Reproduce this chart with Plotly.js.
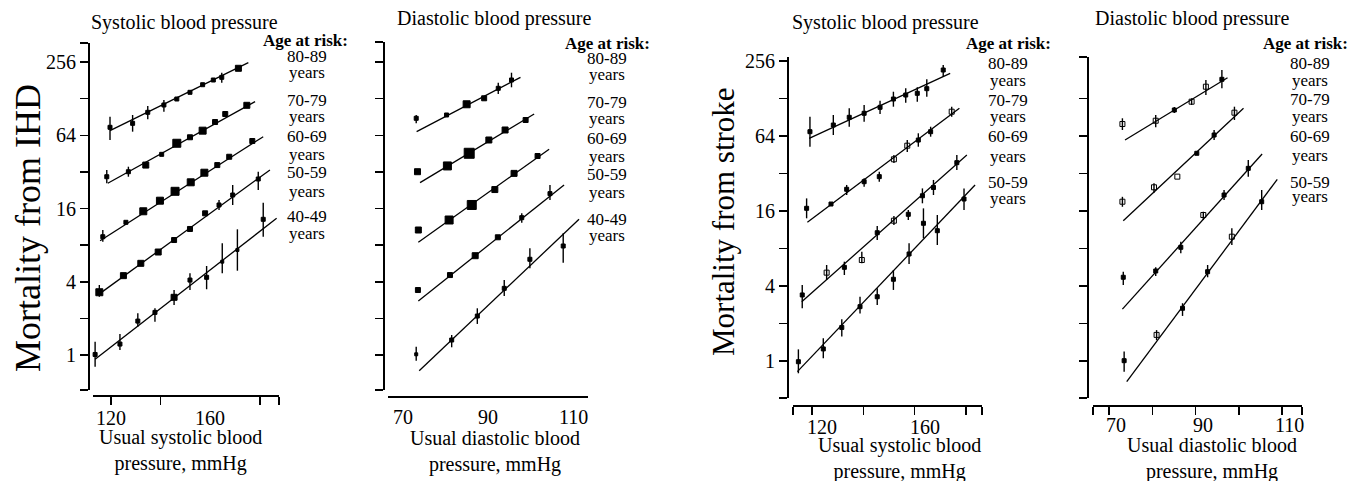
<!DOCTYPE html>
<html><head><meta charset="utf-8">
<script src="https://cdn.plot.ly/plotly-3.0.1.min.js"></script>
<style>html,body{margin:0;padding:0;background:#fff}#chart{width:1367px;height:481px}</style>
</head><body><div id="chart"></div>
<script>
// ================= DATA =================
const ageGroupsIHD = ['80-89', '70-79', '60-69', '50-59', '40-49'];
const ageGroupsStroke = ['80-89', '70-79', '60-69', '50-59'];
const panelTitles = ['Systolic blood pressure', 'Diastolic blood pressure', 'Systolic blood pressure', 'Diastolic blood pressure'];
const yTitles = ['Mortality from IHD', 'Mortality from stroke'];
const xTitles = ['Usual systolic blood<br>pressure, mmHg', 'Usual diastolic blood<br>pressure, mmHg'];
const yTickVals = [1, 2, 4, 8, 16, 32, 64, 128, 256];
const yTickLabels = ['1', '', '4', '', '16', '', '64', '', '256'];
const sbpTickVals = [120, 140, 160, 180];
const sbpTickLabels = ['120', '', '160', ''];
const dbpTickVals = [70, 80, 90, 100, 110];
const dbpTickLabels = ['70', '', '90', '', '110'];

// ---- IHD vs usual systolic BP ----
const ihdSys80x = [119.6, 128.7, 134.8, 141.3, 146.5, 151.8, 156.9, 161.2, 164.6, 171.3];
const ihdSys80y = [74.4, 80.2, 98.8, 113.5, 127.1, 144.3, 166.6, 182.1, 191.6, 227.3];
const ihdSys80lo = [58.5, 68.5, 86.5, 99.9, null, null, null, null, 173, null];
const ihdSys80hi = [90.9, 93.9, 111.3, 124.7, null, null, null, null, 209, null];
const ihdSys80fitX = [119.6, 175.3], ihdSys80fitY = [69.8, 252.7];

const ihdSys70x = [118.3, 127.0, 134.0, 140.4, 146.5, 151.8, 156.9, 161.9, 166.0, 174.7];
const ihdSys70y = [29.2, 32.1, 36.4, 44.6, 55.0, 61.6, 69.8, 82.2, 95.7, 112.8];
const ihdSys70lo = [25.8, 29.2, null, null, null, null, null, null, null, null];
const ihdSys70hi = [33.2, 35.3, null, null, null, null, null, null, null, null];
const ihdSys70fitX = [118.7, 178.0], ihdSys70fitY = [25.8, 120.8];

const ihdSys60x = [116.7, 126.0, 133.0, 139.7, 145.8, 152.1, 157.6, 162.8, 167.6, 176.9];
const ihdSys60y = [9.38, 12.32, 15.18, 18.55, 22.16, 26.27, 31.5, 36.4, 42.6, 57.4];
const ihdSys60lo = [8.54, null, null, null, null, null, null, null, null, null];
const ihdSys60hi = [10.65, null, null, null, null, null, null, null, null, null];
const ihdSys60fitX = [115.6, 181.3], ihdSys60fitY = [8.70, 62.3];

const ihdSys50x = [115.3, 125.0, 132.0, 139.0, 145.4, 151.8, 157.9, 163.5, 169.0, 179.3];
const ihdSys50y = [3.28, 4.49, 5.67, 7.02, 8.81, 10.86, 14.61, 17.10, 20.66, 27.96];
const ihdSys50lo = [3.01, null, null, null, null, null, null, 15.55, 17.1, 22.7];
const ihdSys50hi = [3.76, null, null, null, null, null, null, 18.8, 24.97, 32.1];
const ihdSys50fitX = [115.6, 184.0], ihdSys50fitY = [3.21, 33.2];

const ihdSys40x = [113.6, 123.6, 130.8, 137.7, 145.4, 151.8, 158.5, 164.8, 170.9, 181.3];
const ihdSys40y = [1.01, 1.23, 1.90, 2.24, 2.98, 4.13, 4.35, 5.85, 7.30, 13.04];
const ihdSys40lo = [0.80, 1.10, 1.71, 1.88, 2.58, 3.42, 3.47, 4.69, 4.93, 9.38];
const ihdSys40hi = [1.286, 1.488, 2.20, 2.42, 3.42, 4.69, 5.39, 8.28, 10.79, 17.86];
const ihdSys40fitX = [113.6, 186.7], ihdSys40fitY = [0.922, 13.29];

// ---- IHD vs usual diastolic BP ----
const ihdDia80x = [73.2, 80.3, 85.0, 89.1, 92.4, 95.5];
const ihdDia80y = [88.2, 93.9, 115, 128.8, 155.6, 182.1];
const ihdDia80lo = [80.2, null, null, null, 139.7, 158.6];
const ihdDia80hi = [93.9, null, null, null, 173.1, 209];
const ihdDia80fitX = [73.3, 97.6], ihdDia80fitY = [68.5, 191.6];

const ihdDia70x = [73.5, 80.5, 85.6, 90.2, 94.0, 98.8];
const ihdDia70y = [32.1, 35.8, 45.5, 58.5, 70.7, 85.4];
const ihdDia70lo = [null, null, null, null, null, null];
const ihdDia70hi = [null, null, null, null, null, null];
const ihdDia70fitX = [74.1, 100.8], ihdDia70fitY = [26.1, 95.7];

const ihdDia60x = [73.7, 80.9, 86.2, 91.6, 96.1, 101.6];
const ihdDia60y = [10.65, 12.87, 17.10, 22.9, 31.1, 43.2];
const ihdDia60lo = [null, null, null, null, null, null];
const ihdDia60hi = [null, null, null, null, null, null];
const ihdDia60fitX = [73.7, 104.3], ihdDia60fitY = [8.44, 49.1];

const ihdDia50x = [73.6, 81.1, 87.0, 92.3, 97.9, 104.5];
const ihdDia50y = [3.42, 4.54, 6.55, 9.28, 13.45, 21.2];
const ihdDia50lo = [null, null, null, null, 12.23, 18.8];
const ihdDia50hi = [null, null, null, null, 14.61, 24.97];
const ihdDia50fitX = [73.7, 107.8], ihdDia50fitY = [2.78, 24.97];

const ihdDia40x = [73.2, 81.5, 87.5, 93.8, 99.8, 107.6];
const ihdDia40y = [1.013, 1.328, 2.09, 3.53, 6.12, 7.87];
const ihdDia40lo = [0.898, 1.157, 1.80, 3.05, 5.16, 5.74];
const ihdDia40hi = [1.17, 1.46, 2.42, 4.13, 7.53, 10.0];
const ihdDia40fitX = [73.9, 111.3], ihdDia40fitY = [0.743, 13.04];

// ---- Stroke vs usual systolic BP ----
const strSys80x = [119.2, 128.3, 134.5, 140.3, 146.5, 151.7, 156.5, 161.0, 164.7, 171.1];
const strSys80y = [69.3, 78.4, 90.4, 97.4, 108.8, 126.8, 136.5, 140.9, 153.5, 216.8];
const strSys80lo = [52.5, 65.2, 76.0, 83.4, 96.1, 110.0, 118.5, 120.7, 132.3, 191.5];
const strSys80hi = [91.4, 94.4, 106.8, 113.5, 122.9, 145.1, 154.5, 157.5, 182.5, 237.7];
const strSys80fitX = [118.9, 173.8], strSys80fitY = [61.3, 204];

const strSys70x = [117.9, 127.4, 133.5, 140.3, 146.2, 151.9, 157.1, 161.4, 166.2, 174.4];
const strSys70y = [16.82, 18.2, 23.9, 27.5, 30.2, 41.6, 53.5, 59.4, 69.3, 100.3];
const strSys70lo = [13.98, null, 21.5, 25.1, 27.5, 38.9, 47.6, 52.5, 63.2, 91.4];
const strSys70hi = [20.2, null, 25.9, 29.3, 33.1, 45.0, 59.4, 67.3, 76.0, 110];
const strSys70fitX = [118.2, 177.4], strSys70fitY = [12.99, 106.8];

const strSys60x = [116.2, 125.7, 132.6, 139.4, 145.4, 151.9, 157.5, 163.0, 167.3, 176.4];
const strSys60y = [3.39, 5.12, 5.65, 6.47, 10.71, 13.38, 15.05, 21.2, 24.7, 39.1];
const strSys60lo = [2.65, 4.47, 4.90, 6.08, 9.36, 12.35, 13.55, 18.45, 21.5, 34.1];
const strSys60hi = [4.07, 5.90, 6.27, 7.54, 12.13, 14.59, 16.3, 24.3, 28.4, 45.0];
const strSys60fitX = [116.0, 180.3], strSys60fitY = [2.99, 45.0];

const strSys50x = [114.7, 124.4, 131.6, 138.7, 145.4, 151.7, 157.8, 163.4, 168.8, 179.2];
const strSys50y = [0.987, 1.25, 1.86, 2.73, 3.28, 4.53, 7.23, 12.75, 11.12, 19.97];
const strSys50lo = [0.797, 1.05, 1.57, 2.41, 2.82, 3.72, 6.01, 9.66, 8.53, 16.3];
const strSys50hi = [1.24, 1.52, 2.16, 3.28, 3.83, 5.38, 8.81, 16.8, 14.86, 24.3];
const strSys50fitX = [114.3, 183.5], strSys50fitY = [0.821, 25.9];

// ---- Stroke vs usual diastolic BP ----
const strDia80x = [73.1, 80.8, 85.1, 89.1, 92.4, 96.1];
const strDia80y = [79.9, 84.9, 103.5, 120.7, 159.2, 182.5];
const strDia80lo = [71.5, 75.2, 97.9, 113.5, 136.5, 154.5];
const strDia80hi = [88.8, 94.4, 109.4, 128.5, 180.2, 216.8];
const strDia80fitX = [73.7, 97.4], strDia80fitY = [59.4, 188.0];

const strDia70x = [73.1, 80.4, 85.8, 90.3, 94.3, 99.0];
const strDia70y = [19.0, 24.8, 30.2, 46.5, 65.2, 98.5];
const strDia70lo = [17.3, 22.4, null, null, 59.4, 86.0];
const strDia70hi = [20.8, 26.7, null, null, 71.5, 110];
const strDia70fitX = [73.3, 101.1], strDia70fitY = [13.38, 106.8];

const strDia60x = [73.3, 80.8, 86.6, 91.8, 96.6, 102.2];
const strDia60y = [4.70, 5.28, 8.18, 14.86, 21.5, 35.2];
const strDia60lo = [4.07, 4.81, 7.32, 13.55, 19.6, 30.2];
const strDia60hi = [5.21, 5.65, 9.07, 15.8, 23.6, 41.1];
const strDia60fitX = [73.1, 105.4], strDia60fitY = [2.61, 45.9];

const strDia50x = [73.5, 81.0, 87.0, 92.8, 98.4, 105.3];
const strDia50y = [1.006, 1.62, 2.65, 5.21, 9.95, 19.0];
const strDia50lo = [0.82, 1.47, 2.30, 4.70, 8.53, 16.3];
const strDia50hi = [1.19, 1.77, 2.91, 5.90, 11.62, 23.6];
const strDia50fitX = [74.1, 108.9], strDia50fitY = [0.682, 28.7];

// ================= STYLE (marker sizes / open symbols) =================
const ihdSysSize = [[4,4,4,4,4,4,4,4,4,6],[4,4,6,4,8,5,7,5,5,6],[4,4,7,7,8,7,7,5,5,5],[7,6,6,6,5,5,5,4,4,4],[4,4,4,4,6,4,4,3,3,4]];
const ihdDiaSize = [[4,4,7,5,4,4],[6,8,10,6,6,5],[6,8,9,6,6,5],[5,5,6,5,4,4],[3,4,4,4,4,4]];
const strSysOpen = [[], [5,6,9], [1,3,5], []];
const strDiaOpen = [[0,1,3,4], [0,1,2,5], [3], [1,4]];

// ================= BUILD =================
const W = 1367, H = 481, FONT = 'Liberation Serif';
const traces = [];
function addGroup(xa, ya, x, y, lo, hi, fx, fy, sizes, symbols) {
  traces.push({type:'scatter', mode:'lines', x:fx, y:fy, xaxis:xa, yaxis:ya,
    line:{color:'#000', width:1.3}, hoverinfo:'skip', cliponaxis:false});
  traces.push({type:'scatter', mode:'markers', x:x, y:y, xaxis:xa, yaxis:ya, cliponaxis:false,
    marker:{symbol:symbols, size:sizes, color:'#000', opacity:1, line:{color:'#000', width:1}},
    error_y:{type:'data', symmetric:false, visible:true,
      array:hi.map((h,i)=>h==null?0:h-y[i]), arrayminus:lo.map((l,i)=>l==null?0:y[i]-l),
      width:0, thickness:1.4, color:'#000'}});
}
const sq = n => Array(n).fill('square');
const openSym = (n, open) => Array.from({length:n}, (_, i) => open.includes(i) ? 'square-open' : 'square');
const openSize = (n, open) => Array.from({length:n}, (_, i) => open.includes(i) ? 5 : 4);

addGroup('x','y', ihdSys80x, ihdSys80y, ihdSys80lo, ihdSys80hi, ihdSys80fitX, ihdSys80fitY, ihdSysSize[0], sq(10));
addGroup('x','y', ihdSys70x, ihdSys70y, ihdSys70lo, ihdSys70hi, ihdSys70fitX, ihdSys70fitY, ihdSysSize[1], sq(10));
addGroup('x','y', ihdSys60x, ihdSys60y, ihdSys60lo, ihdSys60hi, ihdSys60fitX, ihdSys60fitY, ihdSysSize[2], sq(10));
addGroup('x','y', ihdSys50x, ihdSys50y, ihdSys50lo, ihdSys50hi, ihdSys50fitX, ihdSys50fitY, ihdSysSize[3], sq(10));
addGroup('x','y', ihdSys40x, ihdSys40y, ihdSys40lo, ihdSys40hi, ihdSys40fitX, ihdSys40fitY, ihdSysSize[4], sq(10));

addGroup('x2','y2', ihdDia80x, ihdDia80y, ihdDia80lo, ihdDia80hi, ihdDia80fitX, ihdDia80fitY, ihdDiaSize[0], sq(6));
addGroup('x2','y2', ihdDia70x, ihdDia70y, ihdDia70lo, ihdDia70hi, ihdDia70fitX, ihdDia70fitY, ihdDiaSize[1], sq(6));
addGroup('x2','y2', ihdDia60x, ihdDia60y, ihdDia60lo, ihdDia60hi, ihdDia60fitX, ihdDia60fitY, ihdDiaSize[2], sq(6));
addGroup('x2','y2', ihdDia50x, ihdDia50y, ihdDia50lo, ihdDia50hi, ihdDia50fitX, ihdDia50fitY, ihdDiaSize[3], sq(6));
addGroup('x2','y2', ihdDia40x, ihdDia40y, ihdDia40lo, ihdDia40hi, ihdDia40fitX, ihdDia40fitY, ihdDiaSize[4], sq(6));

addGroup('x3','y3', strSys80x, strSys80y, strSys80lo, strSys80hi, strSys80fitX, strSys80fitY, openSize(10, strSysOpen[0]), openSym(10, strSysOpen[0]));
addGroup('x3','y3', strSys70x, strSys70y, strSys70lo, strSys70hi, strSys70fitX, strSys70fitY, openSize(10, strSysOpen[1]), openSym(10, strSysOpen[1]));
addGroup('x3','y3', strSys60x, strSys60y, strSys60lo, strSys60hi, strSys60fitX, strSys60fitY, openSize(10, strSysOpen[2]), openSym(10, strSysOpen[2]));
addGroup('x3','y3', strSys50x, strSys50y, strSys50lo, strSys50hi, strSys50fitX, strSys50fitY, openSize(10, strSysOpen[3]), openSym(10, strSysOpen[3]));

addGroup('x4','y4', strDia80x, strDia80y, strDia80lo, strDia80hi, strDia80fitX, strDia80fitY, openSize(6, strDiaOpen[0]), openSym(6, strDiaOpen[0]));
addGroup('x4','y4', strDia70x, strDia70y, strDia70lo, strDia70hi, strDia70fitX, strDia70fitY, openSize(6, strDiaOpen[1]), openSym(6, strDiaOpen[1]));
addGroup('x4','y4', strDia60x, strDia60y, strDia60lo, strDia60hi, strDia60fitX, strDia60fitY, openSize(6, strDiaOpen[2]), openSym(6, strDiaOpen[2]));
addGroup('x4','y4', strDia50x, strDia50y, strDia50lo, strDia50hi, strDia50fitX, strDia50fitY, openSize(6, strDiaOpen[3]), openSym(6, strDiaOpen[3]));

// ---- axes ----
const tickFont = {family:FONT, size:20, color:'#000'};
function xAxis(x0, x1, yPx, range, tickvals, showTicks) {
  return {domain:[x0/W, x1/W], range:range, anchor:'free', position:1 - yPx/H,
    showline:true, linewidth:1.5, linecolor:'#000', showgrid:false, zeroline:false,
    tickmode:'array', tickvals:tickvals, ticktext:tickvals.map(() => ''),
    ticks: showTicks ? 'outside' : '', ticklen:8, tickwidth:1.5, tickcolor:'#000',
    tickfont:tickFont, fixedrange:true};
}
function yAxis(xPx, topPx, botPx, range, tickvals, ticktext) {
  return {type:'log', domain:[1 - botPx/H, 1 - topPx/H], range:range, anchor:'free', position:xPx/W,
    showline:true, linewidth:1.5, linecolor:'#000', showgrid:false, zeroline:false,
    tickmode:'array', tickvals:tickvals, ticktext:ticktext,
    ticks:'outside', ticklen:8, tickwidth:1.5, tickcolor:'#000', tickfont:tickFont, fixedrange:true};
}
const yR12 = [-0.2877, 2.5645], yR2 = [-0.2877, 2.5726], yR34 = [-0.2970, 2.4404];
const end = (r, k) => Math.pow(10, r[k]) * (k ? 0.999 : 1.001);
const blank = a => a.map(() => '');

const xR1 = [112.75, 187.65], xR2 = [66.6, 113.4], xR3 = [112.6, 186.2], xR4 = [66.3, 114.62];

const layout = {
  width:W, height:H, margin:{l:0, r:0, t:0, b:0}, showlegend:false,
  paper_bgcolor:'#fff', plot_bgcolor:'#fff', font:{family:FONT, color:'#000'},
  xaxis: xAxis(93, 279, 395, xR1, [120, 140, 180, xR1[1]-0.05], true),
  xaxis2: xAxis(388, 588, 396, xR2, [], false),
  xaxis3: xAxis(793, 982, 405, xR3, [xR3[0]+0.05, ...sbpTickVals, xR3[1]-0.05], true),
  xaxis4: xAxis(1093, 1302, 405, xR4, [xR4[0]+0.05, ...dbpTickVals, xR4[1]-0.05], true),
  yaxis: yAxis(88, 43, 390, yR12, [end(yR12,0), ...yTickVals, end(yR12,1)], ['', ...yTickLabels, '']),
  yaxis2: yAxis(383, 42, 390, yR2, [end(yR2,0), ...yTickVals, end(yR2,1)], ['', ...blank(yTickLabels), '']),
  yaxis3: yAxis(787, 57, 398, yR34, [end(yR34,0), ...yTickVals], ['', ...yTickLabels]),
  yaxis4: yAxis(1087, 57, 398, yR34, [end(yR34,0), ...yTickVals.slice(0, 8), end(yR34,1)], ['', ...blank(yTickLabels).slice(0, 8), '']),
  annotations: []
};

function ann(text, px, py, size, extra) {
  layout.annotations.push(Object.assign({text:text, xref:'paper', yref:'paper', x:px/W, y:1 - py/H,
    xanchor:'center', yanchor:'middle', showarrow:false, font:{family:FONT, size:size, color:'#000'}}, extra || {}));
}
// x tick labels, placed on each axis's data scale
function xLabels(xref, vals, labels, py, shift) {
  vals.forEach((v, i) => { if (labels[i]) layout.annotations.push({text:labels[i], xref:xref, yref:'paper', x:v, y:1 - py/H,
    xanchor:'center', yanchor:'middle', xshift:shift, showarrow:false, font:tickFont}); });
}
xLabels('x', sbpTickVals, sbpTickLabels, 418, 0);
xLabels('x2', dbpTickVals, dbpTickLabels, 417, 0);
xLabels('x3', sbpTickVals, sbpTickLabels, 427, 10);
xLabels('x4', dbpTickVals, dbpTickLabels, 425, 7);

// panel titles
ann(panelTitles[0], 184, 22, 20); ann(panelTitles[1], 494, 18, 20);
ann(panelTitles[2], 885, 22, 20); ann(panelTitles[3], 1192, 18, 20);
// y titles
ann(yTitles[0], 28, 228, 36, {textangle:-90});
ann(yTitles[1], 723, 222, 31, {textangle:-90});
// x titles
ann(xTitles[0], 180, 450, 20); ann(xTitles[1], 495, 451, 20);
ann(xTitles[0], 899, 458, 20); ann(xTitles[1], 1212, 458, 20);

// Age legends
function ages(cx, headX, headY, groups, ys) {
  ann('<b>Age at risk:</b>', headX, headY, 17);
  groups.forEach((g, i) => { ann(g, cx, ys[i][0], 17); ann('years', cx, ys[i][1], 17); });
}
ages(307, 305, 40, ageGroupsIHD, [[56,73],[100,117],[137,154],[173,191],[217,233]]);
ages(607, 607, 43, ageGroupsIHD, [[58,74],[102,118],[138,156],[174,192],[219,235]]);
ages(1008, 1008, 43, ageGroupsStroke, [[63,80],[101,117],[137,156],[182,198]]);
ages(1310, 1305, 43, ageGroupsStroke, [[63,80],[99,117],[137,155],[182,197]]);

Plotly.newPlot('chart', traces, layout, {staticPlot:true, displayModeBar:false});
</script>
</body></html>
